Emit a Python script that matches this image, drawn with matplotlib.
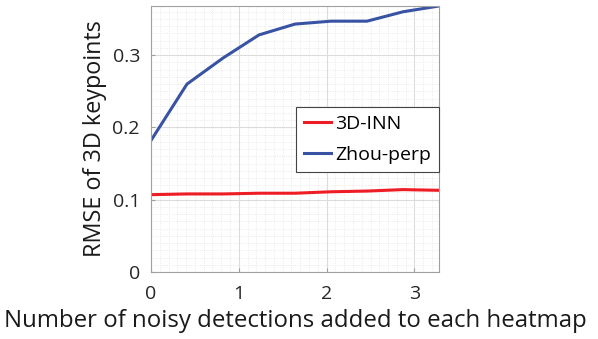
import matplotlib
matplotlib.use("Agg")
import matplotlib.pyplot as plt
from matplotlib.ticker import MultipleLocator, FuncFormatter

# values
noise_levels = [0, 0.41, 0.82, 1.23, 1.64, 2.05, 2.46, 2.87, 3.28]
rmse_3dinn = [0.107, 0.108, 0.108, 0.109, 0.109, 0.111, 0.112, 0.114, 0.113]
rmse_zhou = [0.182, 0.260, 0.296, 0.328, 0.343, 0.347, 0.347, 0.360, 0.368]
series_names = ["3D-INN", "Zhou-perp"]

plt.rcParams["font.family"] = ["Open Sans", "DejaVu Sans"]

fig = plt.figure(figsize=(5.98, 3.39), dpi=100)
ax = fig.add_axes([0.2525, 0.1976, 0.4816, 0.7847])

ax.plot(noise_levels, rmse_3dinn, color="#ee1c25", lw=2.2, label=series_names[0])
ax.plot(noise_levels, rmse_zhou, color="#3953a4", lw=2.2, label=series_names[1])

ax.set_xlim(0, 3.28)
ax.set_ylim(0, 0.368)
ax.xaxis.set_major_locator(MultipleLocator(1))
ax.xaxis.set_minor_locator(MultipleLocator(0.1))
ax.yaxis.set_major_locator(MultipleLocator(0.1))
ax.yaxis.set_minor_locator(MultipleLocator(0.01))
ax.yaxis.set_major_formatter(FuncFormatter(lambda v, p: "0" if abs(v) < 1e-9 else f"{v:.1f}"))

ax.grid(which="major", color="#dcdcdc", lw=0.8)
ax.grid(which="minor", color="#e4e4e4", lw=0.6, ls=":")
ax.set_axisbelow(True)
for s in ax.spines.values():
    s.set_color("#a0a0a0")
    s.set_linewidth(0.8)
ax.tick_params(which="both", direction="in", colors="#a0a0a0", labelcolor="#262626",
               labelsize=14)
ax.tick_params(which="minor", length=0)
ax.tick_params(which="major", length=3)
ax.tick_params(axis="y", pad=8)
ax.tick_params(axis="x", pad=9)

ax.set_xlabel("Number of noisy detections added to each heatmap", fontsize=17.3,
              color="#1a1a1a", labelpad=5)
ax.set_ylabel("RMSE of 3D keypoints", fontsize=16.8, color="#1a1a1a", labelpad=4)

leg = ax.legend(loc="upper left", bbox_to_anchor=(0.503, 0.621), fontsize=14,
                fancybox=False, framealpha=1, edgecolor="#444444", borderaxespad=0,
                handlelength=1.4, handletextpad=0.2, borderpad=0.42, labelspacing=0.66)
leg.get_frame().set_linewidth(0.8)

fig.savefig("out.png", dpi=100)
